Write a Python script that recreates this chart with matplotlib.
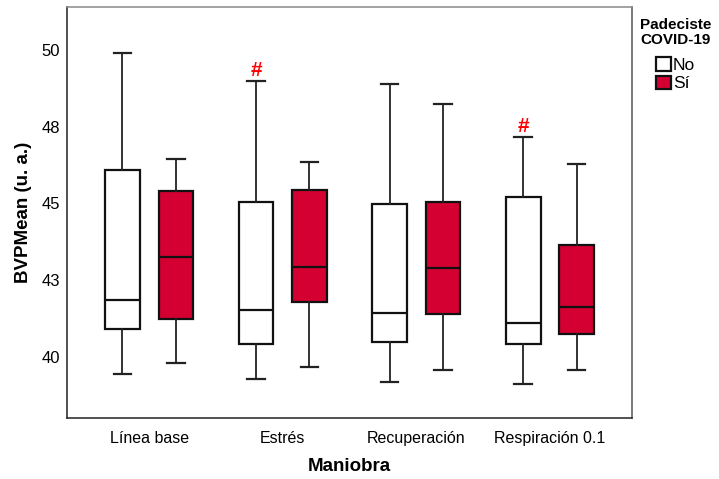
import matplotlib.pyplot as plt
from matplotlib.patches import Patch

plt.rcParams["font.family"] = ["Liberation Sans", "DejaVu Sans"]

maniobras = ["Línea base", "Estrés", "Recuperación", "Respiración 0.1"]
grupos = ["No", "Sí"]
colores = ["white", "#D50032"]

# box stats per maniobra
no_whislo = [39.42, 39.27, 39.19, 39.10]
no_q1 = [40.90, 40.42, 40.48, 40.41]
no_med = [41.86, 41.51, 41.44, 41.10]
no_q3 = [46.10, 45.05, 44.98, 45.19]
no_whishi = [49.91, 49.00, 48.89, 47.16]

si_whislo = [39.79, 39.66, 39.58, 39.57]
si_q1 = [41.23, 41.79, 41.40, 40.75]
si_med = [43.24, 42.92, 42.89, 41.62]
si_q3 = [45.41, 45.44, 45.04, 43.65]
si_whishi = [46.45, 46.36, 48.25, 46.29]

# maniobras with a significant difference marker (#) on the "No" group
marca = [False, True, False, True]

yticks = [40, 42.5, 45, 47.5, 50]
yticklabels = ["40", "43", "45", "48", "50"]

fig = plt.figure(figsize=(7.19, 4.79), dpi=100)
ax = fig.add_axes([0.0932, 0.1273, 0.7858, 0.8581])

series = [
    (no_whislo, no_q1, no_med, no_q3, no_whishi),
    (si_whislo, si_q1, si_med, si_q3, si_whishi),
]
offsets = [-0.2, 0.2]

for g, (lo, q1, med, q3, hi) in enumerate(series):
    stats = [
        dict(whislo=lo[i], q1=q1[i], med=med[i], q3=q3[i], whishi=hi[i], fliers=[])
        for i in range(len(maniobras))
    ]
    pos = [i + offsets[g] for i in range(len(maniobras))]
    ax.bxp(
        stats,
        positions=pos,
        widths=0.26,
        capwidths=0.13,
        patch_artist=True,
        showfliers=False,
        boxprops=dict(facecolor=colores[g], edgecolor="#111111", linewidth=1.6),
        medianprops=dict(color="#111111", linewidth=1.6),
        whiskerprops=dict(color="#222222", linewidth=1.3),
        capprops=dict(color="#222222", linewidth=1.6),
    )

for i, m in enumerate(marca):
    if m:
        ax.text(i + offsets[0], no_whishi[i] + 0.15, "#", color="red",
                fontsize=15, fontweight="bold", ha="center", va="baseline")

ax.set_xlim(-0.615, 3.615)
ax.set_ylim(38.0, 51.4)
ax.set_xticks(range(len(maniobras)))
ax.set_xticklabels(maniobras, fontsize=11.5)
ax.set_yticks(yticks)
ax.set_yticklabels(yticklabels, fontsize=12)
ax.tick_params(length=0)
ax.tick_params(axis="x", pad=9)
ax.tick_params(axis="y", pad=5)

ax.set_xlabel("Maniobra", fontsize=13.5, fontweight="bold", labelpad=9)
ax.set_ylabel("BVPMean (u. a.)", fontsize=13.5, fontweight="bold", labelpad=7)

ax.spines["left"].set_color("#222222")
ax.spines["bottom"].set_color("#222222")
ax.spines["top"].set_color("#888888")
ax.spines["right"].set_color("#555555")
for s in ax.spines.values():
    s.set_linewidth(1.1)

fig.text(640 / 719, 1 - 18 / 479, "Padeciste\nCOVID-19", fontsize=11,
         fontweight="bold", ha="left", va="top", linespacing=1.05)

handles = [Patch(facecolor=c, edgecolor="#111111", linewidth=1.6) for c in colores]
fig.legend(
    handles=handles,
    labels=grupos,
    fontsize=12.5,
    loc="upper left",
    bbox_to_anchor=(656 / 719, 1 - 57 / 479),
    frameon=False,
    handlelength=0.85,
    handleheight=0.85,
    handletextpad=0.12,
    labelspacing=0.15,
    borderpad=0,
    borderaxespad=0,
)

fig.savefig("out.png", dpi=100)
